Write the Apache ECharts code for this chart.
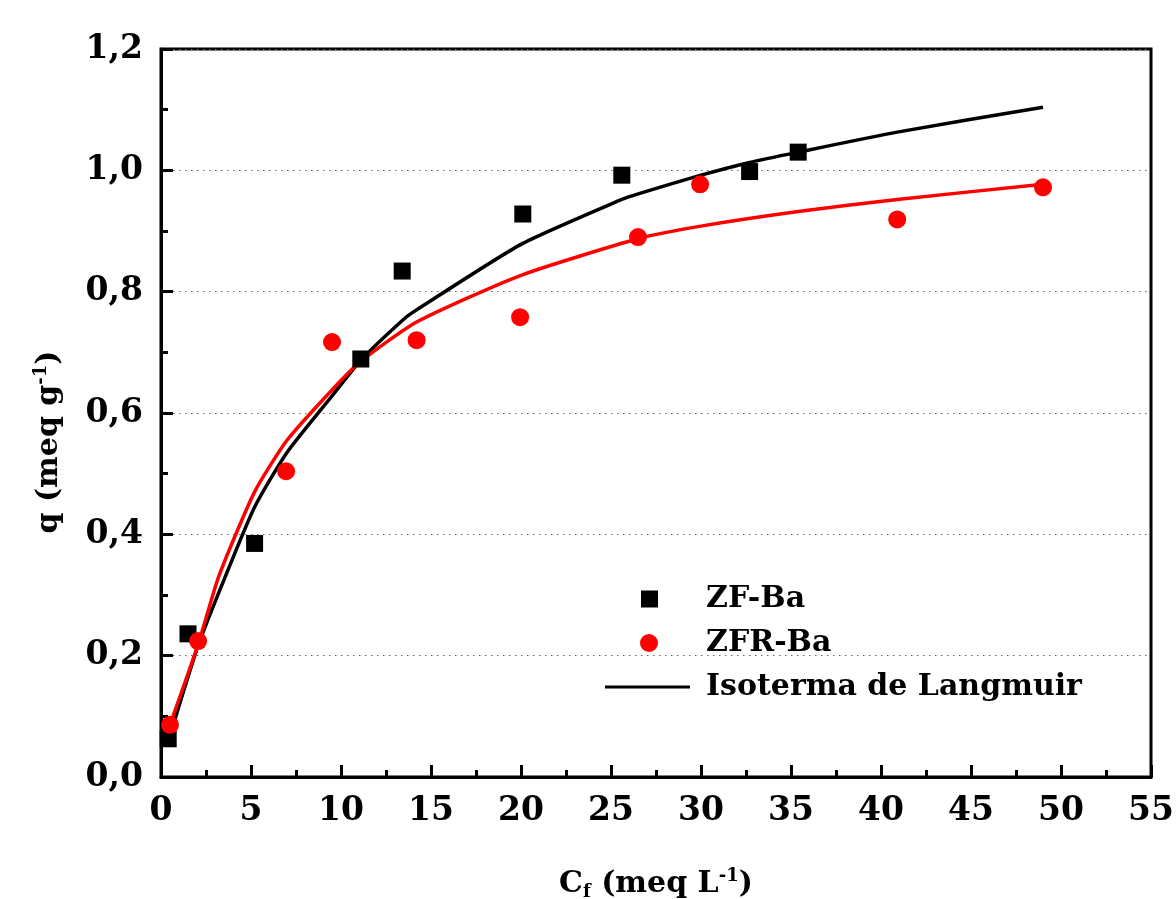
<!DOCTYPE html>
<html>
<head>
<meta charset="utf-8">
<script src="https://cdn.jsdelivr.net/npm/echarts@6/dist/echarts.min.js"></script>
<style>
  html, body { margin: 0; padding: 0; background: #fff; }
  #chart { width: 1176px; height: 899px; }
</style>
</head>
<body>
<div id="chart"></div>
<script>
// ZF-Ba measured points
const zfX = [0.4, 1.5, 5.2, 11.1, 13.4, 20.1, 25.6, 32.7, 35.4]
const zfY = [0.063, 0.236, 0.385, 0.689, 0.834, 0.928, 0.992, 0.998, 1.03]
// ZFR-Ba measured points
const zfrX = [0.5, 2.06, 6.95, 9.5, 14.2, 19.95, 26.5, 29.95, 40.9, 49.0]
const zfrY = [0.086, 0.224, 0.504, 0.717, 0.72, 0.758, 0.89, 0.977, 0.919, 0.972]
// Langmuir curves
const fitZfX = [0.6, 1.5, 2.1, 3.5, 5.2, 7.0, 9.5, 11.1, 13.5, 14.2, 20.0, 25.6, 26.6, 30.0, 32.7, 35.4, 40.9, 49.0]
const fitZfY = [0.078, 0.165, 0.22, 0.325, 0.445, 0.535, 0.628, 0.687, 0.755, 0.77, 0.878, 0.952, 0.962, 0.992, 1.013, 1.03, 1.063, 1.104]
const fitZfrX = [0.5, 2.1, 3.2, 5.2, 7.0, 9.5, 11.1, 14.2, 20.0, 26.6, 30.0, 35.4, 40.9, 49.0]
const fitZfrY = [0.086, 0.222, 0.33, 0.47, 0.555, 0.638, 0.685, 0.75, 0.827, 0.888, 0.908, 0.932, 0.952, 0.977]

const pairs = (xs, ys) => xs.map((x, i) => [x, ys[i]])

const chart = echarts.init(document.getElementById('chart'))
const font = 'DejaVu Serif'

const legendBase = {
  orient: 'vertical',
  selectedMode: false,
  textStyle: { fontFamily: font, fontWeight: 'bold', fontSize: 30, color: '#000' }
}

chart.setOption({
  animation: false,
  backgroundColor: '#fff',
  grid: {
    left: 161,
    top: 49,
    right: 25,
    bottom: 122,
    outerBoundsMode: 'none',
    show: true,
    borderColor: '#000',
    borderWidth: 3
  },
  legend: [
    Object.assign({}, legendBase, {
      left: 636, top: 579,
      data: [{ name: 'ZF-Ba', icon: 'rect' }],
      itemWidth: 17, itemHeight: 17,
      textStyle: Object.assign({}, legendBase.textStyle, { padding: [0, 0, 0, 43] })
    }),
    Object.assign({}, legendBase, {
      left: 635, top: 623,
      data: [{ name: 'ZFR-Ba', icon: 'circle' }],
      itemWidth: 18, itemHeight: 18,
      textStyle: Object.assign({}, legendBase.textStyle, { padding: [0, 0, 0, 43] })
    }),
    Object.assign({}, legendBase, {
      left: 600, top: 667,
      data: [{ name: 'Isoterma de Langmuir', icon: 'rect' }],
      itemWidth: 85, itemHeight: 3,
      textStyle: Object.assign({}, legendBase.textStyle, { padding: [0, 0, 0, 11] })
    })
  ],
  xAxis: {
    type: 'value',
    min: 0,
    max: 55,
    interval: 5,
    name: '{b|C}{sub|f}{b| (meq L}{sup|-1}{b|)}',
    nameLocation: 'middle',
    nameGap: 90,
    nameTextStyle: {
      rich: {
        b: { fontFamily: font, fontWeight: 'bold', fontSize: 30, color: '#000' },
        sub: { fontFamily: font, fontWeight: 'bold', fontSize: 18, color: '#000', padding: [16, 0, 0, 0] },
        sup: { fontFamily: font, fontWeight: 'bold', fontSize: 18, color: '#000', padding: [0, 0, 16, 0] }
      }
    },
    axisLine: { lineStyle: { color: '#000', width: 3 } },
    axisTick: { inside: true, length: 12, lineStyle: { color: '#000', width: 3 } },
    minorTick: { show: true, splitNumber: 2, length: 7, lineStyle: { color: '#000', width: 3 } },
    axisLabel: {
      margin: 18,
      fontFamily: font,
      fontWeight: 'bold',
      fontSize: 33,
      color: '#000'
    },
    splitLine: { show: false }
  },
  yAxis: {
    type: 'value',
    min: 0,
    max: 1.2,
    interval: 0.2,
    name: '{b|q (meq g}{sup|-1}{b|)}',
    nameLocation: 'middle',
    nameGap: 95,
    nameRotate: 90,
    nameTextStyle: {
      padding: [0, 58, 0, 0],
      rich: {
        b: { fontFamily: font, fontWeight: 'bold', fontSize: 30, color: '#000' },
        sup: { fontFamily: font, fontWeight: 'bold', fontSize: 18, color: '#000', padding: [0, 0, 16, 0] }
      }
    },
    axisLine: { lineStyle: { color: '#000', width: 3 } },
    axisTick: { inside: true, length: 12, lineStyle: { color: '#000', width: 3 } },
    minorTick: { show: true, splitNumber: 2, length: 7, lineStyle: { color: '#000', width: 3 } },
    axisLabel: {
      margin: 18,
      fontFamily: font,
      fontWeight: 'bold',
      fontSize: 33,
      color: '#000',
      formatter: v => v.toFixed(1).replace('.', ',')
    },
    splitLine: {
      show: true,
      lineStyle: { color: '#666', width: 1, type: [1.5, 4.5] }
    }
  },
  series: [
    {
      name: 'Isoterma de Langmuir',
      type: 'line',
      data: pairs(fitZfX, fitZfY),
      showSymbol: false,
      smooth: 0.2,
      lineStyle: { color: '#000', width: 3.5 },
      itemStyle: { color: '#000' },
      z: 3
    },
    {
      name: 'Langmuir ZFR-Ba',
      type: 'line',
      data: pairs(fitZfrX, fitZfrY),
      showSymbol: false,
      smooth: 0.2,
      lineStyle: { color: '#ff0000', width: 3.5 },
      itemStyle: { color: '#ff0000' },
      z: 3
    },
    {
      name: 'ZF-Ba',
      type: 'scatter',
      data: pairs(zfX, zfY),
      symbol: 'rect',
      symbolSize: 17,
      itemStyle: { color: '#000', opacity: 1 },
      z: 4
    },
    {
      name: 'ZFR-Ba',
      type: 'scatter',
      data: pairs(zfrX, zfrY),
      symbol: 'circle',
      symbolSize: 18,
      itemStyle: { color: '#ff0000', opacity: 1 },
      z: 5
    }
  ]
})
</script>
</body>
</html>
